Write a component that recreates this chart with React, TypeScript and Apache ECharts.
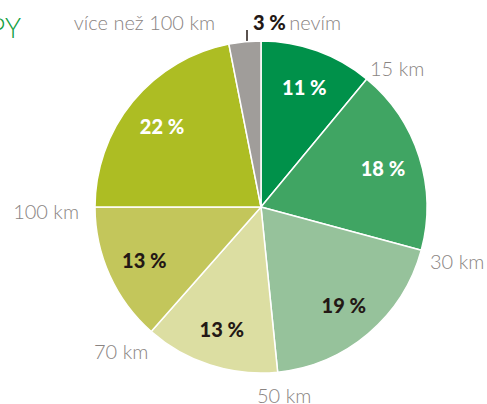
import React, { useEffect, useRef } from "react";
import * as echarts from "echarts";

const categories = ["15 km", "30 km", "50 km", "70 km", "100 km", "více než 100 km", "nevím"];
const shares = [11, 18.2, 19.2, 13.1, 13.5, 21.9, 3.1];
const pctLabels = ["11 %", "18 %", "19 %", "13 %", "13 %", "22 %", "3 %"];
const colors = ["#00914a", "#40a563", "#96c29b", "#dcdea2", "#c3c65b", "#adbd23", "#a09d9a"];
const pctTextColors = ["#ffffff", "#ffffff", "#231815", "#231815", "#231815", "#ffffff", "#231815"];

const LIGHT = "Lato";
const GRAY = "#8a8482";

export default function App() {
  const ref = useRef<HTMLDivElement>(null);
  useEffect(() => {
    if (!ref.current) return;
    const chart = echarts.init(ref.current, undefined, { renderer: "svg" });
    const data = categories.map((c, i) => ({
      name: c,
      value: shares[i],
      itemStyle: { color: colors[i] },
    }));
    const overlay = categories.map((c, i) => ({
      name: c,
      value: shares[i],
      label: {
        show: i < 6,
        color: pctTextColors[i],
      },
    }));
    const outerText = (text: string, x: number, y: number, align: string) => ({
      type: "text",
      x,
      y,
      style: {
        text,
        fill: GRAY,
        font: `300 20px ${LIGHT}`,
        textAlign: align,
        textVerticalAlign: "middle",
      },
    });
    chart.setOption({
      animation: false,
      series: [
        {
          type: "pie",
          center: [261, 207],
          radius: [0, 166],
          startAngle: 90,
          clockwise: true,
          silent: true,
          label: { show: false },
          labelLine: { show: false },
          itemStyle: { borderColor: "#ffffff", borderWidth: 1.5 },
          data,
        },
        {
          type: "pie",
          center: [261, 207],
          radius: [84, 166],
          startAngle: 90,
          clockwise: true,
          silent: true,
          itemStyle: { color: "rgba(0,0,0,0)" },
          label: {
            position: "inside",
            formatter: (p: any) => pctLabels[p.dataIndex],
            fontFamily: LIGHT,
            fontWeight: 900,
            fontSize: 20,
          },
          labelLine: { show: false },
          data: overlay,
        },
      ],
      graphic: [
        {
          type: "text",
          x: 21,
          y: 27,
          style: {
            text: "PY",
            fill: "#13a03f",
            font: `300 27px ${LIGHT}`,
            textAlign: "right",
            textVerticalAlign: "middle",
          },
        },
        outerText(categories[0], 370, 68, "left"),
        outerText(categories[1], 430, 261, "left"),
        outerText(categories[2], 257, 395, "left"),
        outerText(categories[3], 94, 351, "left"),
        outerText(categories[4], 79, 211, "right"),
        outerText(categories[5], 215, 22, "right"),
        {
          type: "text",
          x: 253,
          y: 22,
          style: {
            text: `{b|${pctLabels[6]}} {l|${categories[6]}}`,
            textVerticalAlign: "middle",
            rich: {
              b: { fill: "#231815", fontFamily: LIGHT, fontWeight: 900, fontSize: 20 },
              l: { fill: GRAY, fontFamily: LIGHT, fontWeight: 300, fontSize: 20 },
            },
          },
        },
        {
          type: "line",
          shape: { x1: 247, y1: 30, x2: 247, y2: 57 },
          style: { stroke: "#231815", lineWidth: 1.5 },
        },
      ],
    });
    return () => chart.dispose();
  }, []);
  return (
    <div
      ref={ref}
      style={{ position: "fixed", left: 0, top: 0, width: 487, height: 404, background: "#fff" }}
    />
  );
}
